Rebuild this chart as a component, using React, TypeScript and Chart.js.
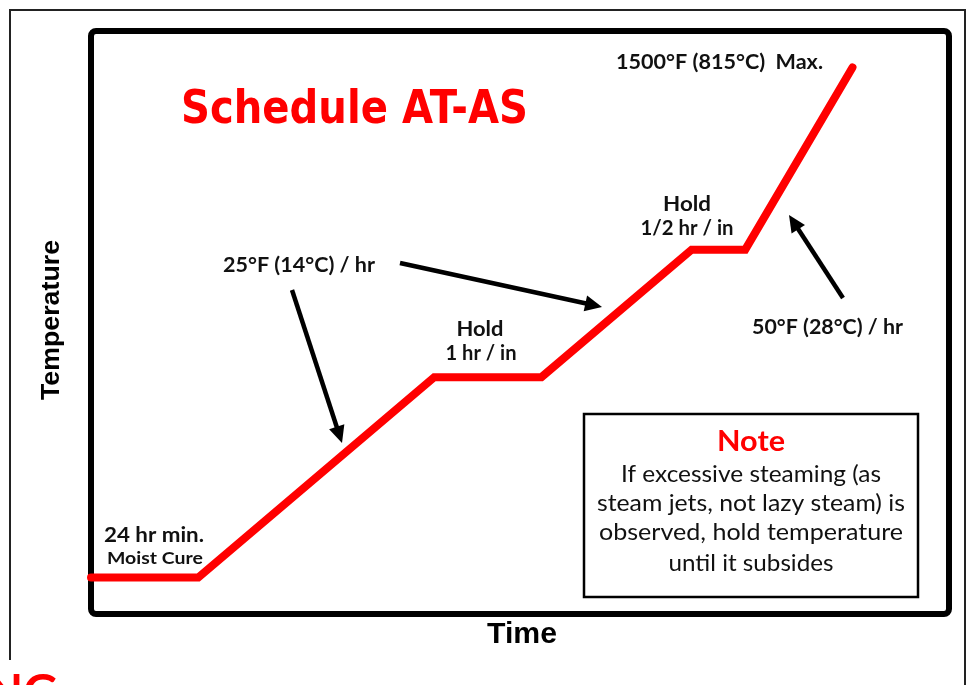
import React, { useEffect, useRef } from "react";
import { Chart, registerables } from "chart.js";

Chart.register(...registerables);

// Schedule data (time in hours, temperature in °F)
const timeHours = [0, 10, 32, 42, 56, 61, 71];
const temperatureF = [100, 100, 650, 650, 1000, 1000, 1500];
const xRange = [0, 80];
const yRange = [0, 1600];

const titleText = "Schedule AT-AS";
const xAxisTitle = "Time";
const yAxisTitle = "Temperature";
const maxLabel = "1500°F (815°C)  Max.";
const rateLabel1 = "25°F (14°C) / hr";
const rateLabel2 = "50°F (28°C) / hr";
const hold1Lines = ["Hold", "1 hr / in"];
const hold2Lines = ["Hold", "1/2 hr / in"];
const cureLines = ["24 hr min.", "Moist Cure"];
const noteTitle = "Note";
const noteLines = [
  "If excessive steaming (as",
  "steam jets, not lazy steam) is",
  "observed, hold temperature",
  "until it subsides",
];

const HUM = "Lato, 'Open Sans', sans-serif";

function fitText(
  ctx: CanvasRenderingContext2D,
  text: string,
  x: number,
  y: number,
  font: string,
  color: string,
  width: number | null,
  align: CanvasTextAlign = "left"
) {
  ctx.save();
  ctx.font = font;
  ctx.fillStyle = color;
  ctx.textBaseline = "middle";
  ctx.textAlign = align;
  let sx = 1;
  if (width) {
    const m = ctx.measureText(text).width;
    sx = width / m;
  }
  ctx.translate(x, y);
  ctx.scale(sx, 1);
  ctx.fillText(text, 0, 0);
  ctx.restore();
}

function arrow(
  ctx: CanvasRenderingContext2D,
  x1: number,
  y1: number,
  x2: number,
  y2: number
) {
  const ang = Math.atan2(y2 - y1, x2 - x1);
  const headLen = 17;
  const headW = 8;
  const bx = x2 - headLen * Math.cos(ang);
  const by = y2 - headLen * Math.sin(ang);
  ctx.save();
  ctx.strokeStyle = "#000";
  ctx.fillStyle = "#000";
  ctx.lineWidth = 4.5;
  ctx.lineCap = "butt";
  ctx.beginPath();
  ctx.moveTo(x1, y1);
  ctx.lineTo(bx + 2 * Math.cos(ang), by + 2 * Math.sin(ang));
  ctx.stroke();
  ctx.beginPath();
  ctx.moveTo(x2, y2);
  ctx.lineTo(bx + headW * Math.sin(ang), by - headW * Math.cos(ang));
  ctx.lineTo(bx - headW * Math.sin(ang), by + headW * Math.cos(ang));
  ctx.closePath();
  ctx.fill();
  ctx.restore();
}

const framePlugin = {
  id: "frameBox",
  beforeDatasetsDraw(chart: any) {
    const ctx: CanvasRenderingContext2D = chart.ctx;
    const a = chart.chartArea;
    ctx.save();
    // outer thin frame
    ctx.strokeStyle = "#222";
    ctx.lineWidth = 2;
    ctx.beginPath();
    ctx.moveTo(10, 660);
    ctx.lineTo(10, 10);
    ctx.lineTo(965, 10);
    ctx.lineTo(965, 690);
    ctx.stroke();
    // plot box
    ctx.strokeStyle = "#000";
    ctx.lineWidth = 6;
    ctx.beginPath();
    (ctx as any).roundRect(a.left, a.top, a.right - a.left, a.bottom - a.top, 5);
    ctx.stroke();
    ctx.restore();
  },
};

const annotPlugin = {
  id: "annotations",
  afterDatasetsDraw(chart: any) {
    const ctx: CanvasRenderingContext2D = chart.ctx;
    const red = "#ff0000";
    const blk = "#111";
    // title
    fitText(ctx, titleText, 181, 111, "bold 46px 'DejaVu Sans', sans-serif", red, 347);
    // labels
    fitText(ctx, maxLabel, 616, 63, `bold 20px ${HUM}`, blk, 207);
    fitText(ctx, hold2Lines[0], 687, 205, `bold 20px ${HUM}`, blk, 48, "center");
    fitText(ctx, hold2Lines[1], 687, 229, `bold 20px ${HUM}`, blk, 93, "center");
    fitText(ctx, rateLabel1, 223, 266, `bold 20px ${HUM}`, blk, 152);
    fitText(ctx, hold1Lines[0], 480, 330, `bold 20px ${HUM}`, blk, 47, "center");
    fitText(ctx, hold1Lines[1], 481, 354, `bold 20px ${HUM}`, blk, 71, "center");
    fitText(ctx, rateLabel2, 752, 328, `bold 20px ${HUM}`, blk, 151);
    fitText(ctx, cureLines[0], 104, 536, `bold 20px ${HUM}`, blk, 100);
    fitText(ctx, cureLines[1], 107, 559, `bold 17px ${HUM}`, blk, 96);

    // axis titles
    fitText(ctx, xAxisTitle, 522, 635, "bold 30px 'Liberation Sans', Arial, sans-serif", "#000", 70, "center");
    ctx.save();
    ctx.translate(52, 320);
    ctx.rotate(-Math.PI / 2);
    fitText(ctx, yAxisTitle, 0, 0, "bold 26px 'Liberation Sans', Arial, sans-serif", "#000", 160, "center");
    ctx.restore();

    // arrows
    arrow(ctx, 292, 290, 342, 443);
    arrow(ctx, 400, 263, 602, 307);
    arrow(ctx, 843, 298, 789, 215);

    // note box
    ctx.save();
    ctx.fillStyle = "#fff";
    ctx.fillRect(584, 414, 334, 183);
    ctx.strokeStyle = "#000";
    ctx.lineWidth = 2.5;
    ctx.strokeRect(584, 414, 334, 183);
    ctx.restore();
    fitText(ctx, noteTitle, 751, 442, `bold 28px ${HUM}`, red, 68, "center");
    const noteWidths = [260, 308, 304, 165];
    const noteYs = [475, 504, 533, 564];
    noteLines.forEach((l, i) =>
      fitText(ctx, l, 751, noteYs[i], `23px ${HUM}`, "#111", noteWidths[i], "center")
    );

    // cut-off heading at bottom
    ctx.save();
    ctx.font = `bold 48px ${HUM}`;
    ctx.fillStyle = red;
    ctx.textAlign = "right";
    ctx.textBaseline = "alphabetic";
    ctx.fillText("NG", 58, 709);
    ctx.restore();
  },
};

export default function App() {
  const ref = useRef<HTMLCanvasElement | null>(null);
  useEffect(() => {
    if (!ref.current) return;
    const chart = new Chart(ref.current, {
      type: "line",
      data: {
        datasets: [
          {
            data: timeHours.map((t, i) => ({ x: t, y: temperatureF[i] })),
            borderColor: "#ff0000",
            borderWidth: 8,
            pointRadius: 0,
            tension: 0,
            fill: false,
            borderCapStyle: "round",
            borderJoinStyle: "miter",
            clip: false as any,
          },
        ],
      },
      options: {
        animation: false,
        responsive: false,
        devicePixelRatio: 1,
        layout: { padding: { left: 91, top: 31, right: 19, bottom: 71 } },
        scales: {
          x: { type: "linear", min: xRange[0], max: xRange[1], display: false },
          y: { type: "linear", min: yRange[0], max: yRange[1], display: false },
        },
        plugins: {
          legend: { display: false },
          tooltip: { enabled: false },
        },
      },
      plugins: [framePlugin, annotPlugin],
    });
    return () => chart.destroy();
  }, []);
  return (
    <div style={{ position: "absolute", left: 0, top: 0, width: 968, height: 685, background: "#fff" }}>
      <canvas ref={ref} width={968} height={685} style={{ width: 968, height: 685, display: "block" }} />
    </div>
  );
}
